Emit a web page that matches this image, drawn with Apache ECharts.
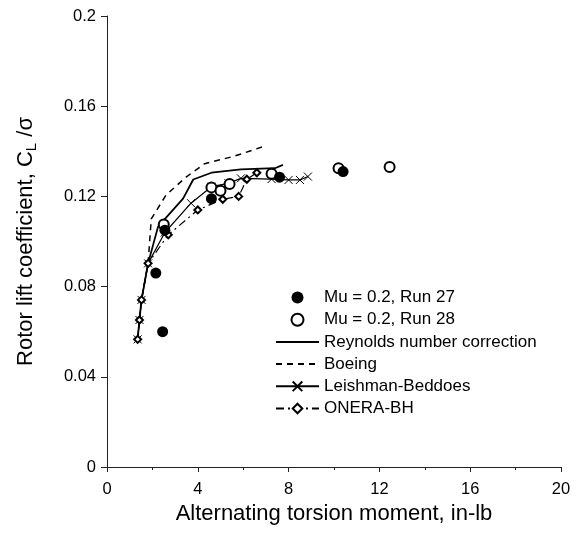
<!DOCTYPE html>
<html>
<head>
<meta charset="utf-8">
<script src="https://cdn.jsdelivr.net/npm/echarts@6/dist/echarts.min.js"></script>
<style>html,body{margin:0;padding:0;background:#fff}#c{width:581px;height:533px}</style>
</head>
<body>
<div id="c"></div>
<script>
// Data
const run27X = [2.45, 2.15, 2.55, 4.6, 7.6, 10.4];
const run27Y = [0.060, 0.086, 0.105, 0.119, 0.1285, 0.131];
const run28X = [2.5, 4.6, 5.0, 5.4, 7.25, 10.2, 12.45];
const run28Y = [0.1075, 0.124, 0.1225, 0.1255, 0.130, 0.1325, 0.133];
const reyX = [1.35, 1.43, 1.52, 1.81, 2.25, 3.35, 3.8, 4.6, 5.9, 7.4, 7.75];
const reyY = [0.0566, 0.0652, 0.0741, 0.0903, 0.1066, 0.119, 0.1275, 0.1305, 0.132, 0.1325, 0.134];
const boeX = [1.35, 1.43, 1.52, 1.81, 1.95, 2.6, 3.5, 4.3, 5.6, 7.0];
const boeY = [0.0566, 0.0652, 0.0741, 0.0903, 0.110, 0.1206, 0.1287, 0.1345, 0.1378, 0.1425];
const lbX = [1.35, 1.43, 1.52, 1.81, 2.55, 3.7, 4.6, 5.35, 5.9, 7.25, 8.0, 8.5, 8.85];
const lbY = [0.0566, 0.0652, 0.0741, 0.0903, 0.104, 0.117, 0.1243, 0.1258, 0.128, 0.1277, 0.1273, 0.1273, 0.1288];
const onX = [1.35, 1.43, 1.52, 1.81, 2.7, 4.0, 5.1, 5.8, 6.16, 6.6];
const onY = [0.0566, 0.0652, 0.0741, 0.0903, 0.103, 0.114, 0.1187, 0.120, 0.1276, 0.1305];
const xTicks = [0, 4, 8, 12, 16, 20];
const yTicks = [0, 0.04, 0.08, 0.12, 0.16, 0.2];

const zip = (xs, ys) => xs.map((x, i) => [x, ys[i]]);
const FONT = '"Liberation Sans", Arial, sans-serif';
const crossPath = 'path://M0,0L10,10M10,0L0,10';

const chart = echarts.init(document.getElementById('c'), null, {renderer: 'canvas'});
chart.setOption({
  animation: false,
  backgroundColor: '#fff',
  textStyle: {fontFamily: FONT, color: '#000'},
  grid: {left: 107, right: 20, top: 16, bottom: 66},
  legend: {
    orient: 'vertical', left: 275, top: 289, padding: 0,
    itemWidth: 43, itemHeight: 12, itemGap: 5.2,
    textStyle: {fontFamily: FONT, fontSize: 17, color: '#000', lineHeight: 17},
    data: [
      'Mu = 0.2, Run 27',
      'Mu = 0.2, Run 28',
      {name: 'Reynolds number correction', itemStyle: {opacity: 0}},
      {name: 'Boeing', itemStyle: {opacity: 0}},
      'Leishman-Beddoes',
      'ONERA-BH'
    ]
  },
  xAxis: {
    type: 'value', min: xTicks[0], max: xTicks[xTicks.length - 1], interval: 4,
    name: 'Alternating torsion moment, in-lb', nameLocation: 'middle', nameGap: 27,
    nameTextStyle: {fontFamily: FONT, fontSize: 22, color: '#000'},
    axisLine: {show: true, onZero: false, lineStyle: {color: '#222', width: 1}},
    axisTick: {show: true, inside: false, length: 5, lineStyle: {color: '#222'}},
    minorTick: {show: true, splitNumber: 2, length: 3, lineStyle: {color: '#222'}},
    axisLabel: {fontFamily: FONT, fontSize: 16.5, color: '#000', margin: 14},
    splitLine: {show: false}
  },
  yAxis: {
    type: 'value', min: yTicks[0], max: yTicks[yTicks.length - 1], interval: 0.04,
    name: '{a|Rotor lift coefficient, C}{s|L}{a| /σ}', nameLocation: 'middle', nameGap: 68, nameRotate: 90,
    nameTextStyle: {
      fontFamily: FONT, fontSize: 22, color: '#000',
      rich: {a: {fontFamily: FONT, fontSize: 22, color: '#000'}, s: {fontFamily: FONT, fontSize: 15, color: '#000', verticalAlign: 'bottom', padding: [12, 0, 0, 0]}}
    },
    axisLine: {show: true, onZero: false, lineStyle: {color: '#222', width: 1}},
    axisTick: {show: true, inside: false, length: 6, lineStyle: {color: '#222'}},
    axisLabel: {fontFamily: FONT, fontSize: 16.5, color: '#000', margin: 11,
      formatter: v => String(Math.round(v * 100) / 100)},
    splitLine: {show: false}
  },
  series: [
    {name: 'Mu = 0.2, Run 28', type: 'scatter', data: zip(run28X, run28Y), symbol: 'emptyCircle', symbolSize: 10,
      itemStyle: {color: '#000', borderWidth: 1.3, opacity: 1}, z: 3},
    {name: 'Mu = 0.2, Run 27', type: 'scatter', data: zip(run27X, run27Y), symbol: 'circle', symbolSize: 11,
      itemStyle: {color: '#000', opacity: 1}, z: 5},
    {name: 'Reynolds number correction', type: 'line', data: zip(reyX, reyY), showSymbol: false, symbol: 'none',
      lineStyle: {color: '#000', width: 1.8, type: 'solid'}, itemStyle: {color: '#000'}, z: 2},
    {name: 'Boeing', type: 'line', data: zip(boeX, boeY), showSymbol: false, symbol: 'none',
      lineStyle: {color: '#000', width: 1.5, type: [6, 5]}, itemStyle: {color: '#000'}, z: 2},
    {name: 'Leishman-Beddoes', type: 'line', data: zip(lbX, lbY), symbol: crossPath, symbolSize: 8,
      lineStyle: {color: '#000', width: 1.2, type: 'solid'},
      itemStyle: {color: 'rgba(0,0,0,0)', borderColor: '#000', borderWidth: 1}, z: 2},
    {name: 'ONERA-BH', type: 'line', data: zip(onX, onY), symbol: 'emptyDiamond', symbolSize: 7,
      lineStyle: {color: '#000', width: 1.2, type: [8, 4, 2, 4]},
      itemStyle: {color: '#000', borderWidth: 1}, z: 2}
  ]
});
</script>
</body>
</html>
